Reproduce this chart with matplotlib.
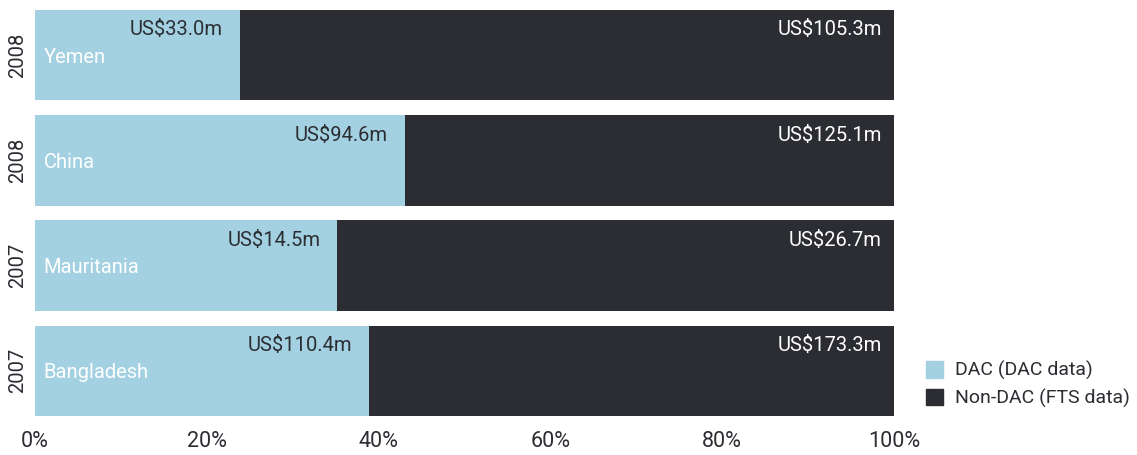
import matplotlib
matplotlib.use("Agg")
import matplotlib.pyplot as plt
from matplotlib.patches import Patch

countries = ["Yemen", "China", "Mauritania", "Bangladesh"]
years = ["2008", "2008", "2007", "2007"]
dac = [33.0, 94.6, 14.5, 110.4]
non_dac = [105.3, 125.1, 26.7, 173.3]
xticks = [0, 20, 40, 60, 80, 100]
xtick_labels = ["0%", "20%", "40%", "60%", "80%", "100%"]

LIGHT = "#a3d1e2"
DARK = "#2b2d32"
TXT = "#2b2d32"
plt.rcParams["font.family"] = ["Roboto", "DejaVu Sans"]

fig = plt.figure(figsize=(11.37, 4.55), dpi=100)
ax = fig.add_axes([35/1137, 1-416/455, (894-35)/1137, (416-10)/455])

h = 0.86
fs = 14.5
for i, (c, y, d, n) in enumerate(zip(countries, years, dac, non_dac)):
    tot = d + n
    dp = d / tot * 100
    np_ = n / tot * 100
    ax.barh(i, dp, height=h, color=LIGHT, left=0)
    ax.barh(i, np_, height=h, color=DARK, left=dp)
    ax.text(dp - 2.0, i - 0.24, f"US${d:.1f}m", ha="right", va="center", fontsize=fs, color=TXT)
    ax.text(98.6, i - 0.24, f"US${n:.1f}m", ha="right", va="center", fontsize=fs, color="white")
    ax.text(1.0, i + 0.02, c, ha="left", va="center", fontsize=fs, color="white")
    ax.text(-2.0, i, y, ha="center", va="center", rotation=90, fontsize=fs, color=TXT)

ax.set_ylim(len(countries) - 1 + h/2, -h/2)
ax.set_xlim(0, 100)
ax.set_xticks(xticks)
ax.set_xticklabels(xtick_labels, fontsize=15.5, color=TXT)
ax.tick_params(axis="x", length=0, pad=11)
ax.set_yticks([])
for s in ax.spines.values():
    s.set_visible(False)

handles = [Patch(color=LIGHT, label="DAC (DAC data)"), Patch(color=DARK, label="Non-DAC (FTS data)")]
fig.legend(handles=handles, loc="lower left", bbox_to_anchor=(912/1137, 1-422/455), frameon=False,
           fontsize=14, handlelength=0.9, handleheight=0.9, handletextpad=0.6, labelspacing=0.45,
           labelcolor=TXT, borderpad=0.2)

fig.savefig("out.png", dpi=100)
